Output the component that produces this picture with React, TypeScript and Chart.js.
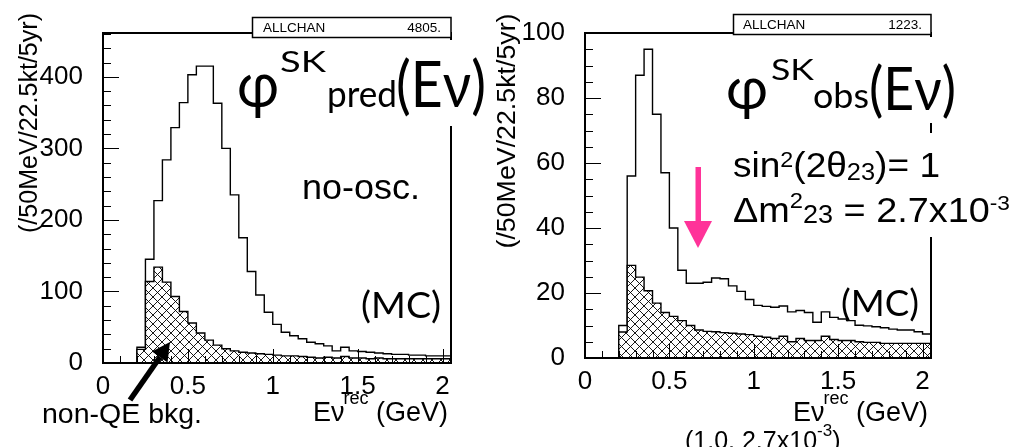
import React, { useEffect, useRef } from 'react';
import { Chart, registerables } from 'chart.js';

Chart.register(...registerables);

// Reconstructed neutrino energy: lower edges of the 50 MeV bins (GeV)
const binLowEdges = [
  0, 0.05, 0.1, 0.15, 0.2, 0.25, 0.3, 0.35, 0.4, 0.45,
  0.5, 0.55, 0.6, 0.65, 0.7, 0.75, 0.8, 0.85, 0.9, 0.95,
  1.0, 1.05, 1.1, 1.15, 1.2, 1.25, 1.3, 1.35, 1.4, 1.45,
  1.5, 1.55, 1.6, 1.65, 1.7, 1.75, 1.8, 1.85, 1.9, 1.95, 2.0,
];
const X_MAX = 2.05;

const xTickValues = [0, 0.5, 1, 1.5, 2];
const xTickLabels = ['0', '0.5', '1', '1.5', '2'];

const predYTicks = [0, 100, 200, 300, 400];
const predYTickLabels = ['0', '100', '200', '300', '400'];
const obsYTicks = [0, 20, 40, 60, 80, 100];
const obsYTickLabels = ['0', '20', '40', '60', '80', '100'];

// Predicted spectrum without oscillation (events / 50 MeV / 22.5 kt / 5 yr)
const predTotal = [
  0, 0, 0, 0, 22, 145, 227, 284, 329, 364,
  403, 415, 415, 363, 300, 235, 175, 128, 95, 71,
  54, 43, 38, 34, 29, 27, 24, 17, 22, 17,
  16, 15, 14, 13, 12, 12, 11, 11, 10, 10, 10,
];
const predNonQE = [
  0, 0, 0, 0, 19, 114, 134, 113, 93, 72,
  56, 42, 32, 25, 20, 17, 15, 14, 13, 12,
  11, 10, 10, 9, 8, 7, 8, 7, 9, 7,
  7, 6, 7, 6, 6, 6, 6, 6, 6, 6, 6,
];

// Spectrum with oscillation (sin^2 2θ = 1, Δm^2 = 2.7e-3 eV^2)
const obsTotal = [
  0, 0, 0, 0, 10, 56, 87, 95, 75, 57,
  40, 27, 23, 23, 23.3, 24.6, 24.4, 22.2, 20.5, 18,
  16.2, 15.9, 15.6, 16, 14.2, 14.6, 14, 11, 14.2, 12.5,
  12, 11.5, 10.1, 9.9, 9.6, 9.3, 8.9, 8.6, 8.6, 8.1, 7.4,
];
const obsNonQE = [
  0, 0, 0, 0, 8, 28.5, 24.9, 20.7, 16.9, 14,
  12.8, 11.5, 10, 8.6, 8.2, 8.1, 7.8, 7.6, 7.4, 7.2,
  6.7, 6.4, 6, 6.7, 5, 6, 5.4, 5.4, 6.7, 5.7,
  5.4, 5.4, 5, 4.8, 4.8, 4.5, 4.5, 4.5, 4.5, 4.5, 4.5,
];

const predEntries = '4805.';
const obsEntries = '1223.';

const SANS = "'Liberation Sans', Arial, Helvetica, sans-serif";
const HUMANIST = "Lato, 'Noto Sans', sans-serif";
const INK = '#000';
const PINK = '#ff3399';
const H = 447;

type PanelSpec = {
  width: number;
  areaLeft: number;
  areaRight: number;
  areaTop: number;
  areaBottom: number;
  yMax: number;
  yMinor: number;
  yMajor: number;
  yTicks: number[];
  yTickLabels: string[];
  total: number[];
  nonQE: number[];
};

const predPanel: PanelSpec = {
  width: 500, areaLeft: 103, areaRight: 451, areaTop: 17, areaBottom: 363,
  yMax: 461.3, yMinor: 20, yMajor: 100,
  yTicks: predYTicks, yTickLabels: predYTickLabels,
  total: predTotal, nonQE: predNonQE,
};

const obsPanel: PanelSpec = {
  width: 515, areaLeft: 85, areaRight: 431, areaTop: 14, areaBottom: 358,
  yMax: 100, yMinor: 5, yMajor: 20,
  yTicks: obsYTicks, yTickLabels: obsYTickLabels,
  total: obsTotal, nonQE: obsNonQE,
};

// histogram contents as step points at the lower bin edges, closed at X_MAX
function toSteps(values: number[]) {
  const pts = values.map((v, i) => ({ x: binLowEdges[i], y: v }));
  pts.push({ x: X_MAX, y: values[values.length - 1] });
  return pts;
}

// ROOT-style cross hatching
function makeHatch(ctx: CanvasRenderingContext2D): CanvasPattern | string {
  const s = 9;
  const c = document.createElement('canvas');
  c.width = s;
  c.height = s;
  const g = c.getContext('2d');
  if (!g) return '#fff';
  g.fillStyle = '#fff';
  g.fillRect(0, 0, s, s);
  g.strokeStyle = '#000';
  g.lineWidth = 0.9;
  g.beginPath();
  g.moveTo(-1, -1);
  g.lineTo(s + 1, s + 1);
  g.moveTo(s + 1, -1);
  g.lineTo(-1, s + 1);
  g.stroke();
  return ctx.createPattern(c, 'repeat') || '#fff';
}

// inward tick marks and the plot frame
function axisDecor(spec: PanelSpec) {
  return {
    id: 'axisDecor',
    afterDatasetsDraw(chart: any) {
      const { ctx, chartArea: a } = chart;
      const xs = chart.scales.x;
      const ys = chart.scales.y;
      ctx.save();
      ctx.strokeStyle = INK;
      ctx.lineWidth = 1;
      ctx.beginPath();
      for (let k = 0; k <= 20; k++) {
        const px = Math.round(xs.getPixelForValue(k / 10)) + 0.5;
        const len = k % 5 === 0 ? 14 : 7;
        ctx.moveTo(px, a.bottom);
        ctx.lineTo(px, a.bottom - len);
      }
      for (let k = 0; k * spec.yMinor < spec.yMax; k++) {
        const v = k * spec.yMinor;
        const py = Math.round(ys.getPixelForValue(v)) + 0.5;
        const len = v % spec.yMajor === 0 ? 16 : 8;
        ctx.moveTo(a.left, py);
        ctx.lineTo(a.left + len, py);
      }
      ctx.stroke();
      ctx.lineWidth = 2;
      ctx.strokeRect(a.left, a.top, a.right - a.left, a.bottom - a.top);
      ctx.restore();
    },
  };
}

function buildChart(canvas: HTMLCanvasElement, spec: PanelSpec) {
  const ctx = canvas.getContext('2d') as CanvasRenderingContext2D;
  const hatch = makeHatch(ctx);
  const tickFont = { family: SANS, size: 26, lineHeight: 1 };
  return new Chart(canvas, {
    type: 'line',
    data: {
      datasets: [
        {
          data: toSteps(spec.nonQE),
          stepped: 'before',
          borderColor: INK,
          borderWidth: 1.4,
          backgroundColor: hatch as any,
          fill: 'origin',
          pointRadius: 0,
        },
        {
          data: toSteps(spec.total),
          stepped: 'before',
          borderColor: INK,
          borderWidth: 1.4,
          backgroundColor: 'transparent',
          fill: false,
          pointRadius: 0,
        },
      ],
    },
    options: {
      animation: false,
      responsive: false,
      maintainAspectRatio: false,
      devicePixelRatio: 1,
      events: [],
      layout: {
        padding: { left: 0, top: spec.areaTop, right: spec.width - spec.areaRight, bottom: 0 },
      },
      plugins: { legend: { display: false }, tooltip: { enabled: false } },
      scales: {
        x: {
          type: 'linear',
          min: 0,
          max: X_MAX,
          grid: { display: false, drawTicks: false },
          border: { display: false },
          afterBuildTicks: (s: any) => {
            s.ticks = xTickValues.map((v) => ({ value: v }));
          },
          afterFit: (s: any) => {
            s.height = H - spec.areaBottom;
          },
          ticks: {
            font: tickFont,
            color: INK,
            padding: 11,
            maxRotation: 0,
            autoSkip: false,
            callback: (_v: any, i: number) => xTickLabels[i],
          },
        },
        y: {
          type: 'linear',
          min: 0,
          max: spec.yMax,
          grid: { display: false, drawTicks: false },
          border: { display: false },
          afterBuildTicks: (s: any) => {
            s.ticks = spec.yTicks.map((v) => ({ value: v }));
          },
          afterFit: (s: any) => {
            s.width = spec.areaLeft;
          },
          ticks: {
            font: tickFont,
            color: INK,
            padding: 20,
            autoSkip: false,
            callback: (_v: any, i: number) => spec.yTickLabels[i],
          },
        },
      },
    } as any,
    plugins: [axisDecor(spec)],
  });
}

function EnergyTitle({ right }: { right: number }) {
  return (
    <text x={right} y={421} textAnchor="end" fontFamily={SANS} fontSize={27}>
      Eν<tspan fontSize={18} dx={-1} dy={-17}>rec</tspan>
      <tspan dy={17}> (GeV)</tspan>
    </text>
  );
}

function Overlay() {
  return (
    <svg
      width={1015}
      height={H}
      style={{ position: 'absolute', left: 0, top: 0, pointerEvents: 'none' }}
    >
      {/* white panels behind the large annotations */}
      <rect x={232} y={40} width={262} height={86} fill="#fff" />
      <rect x={722} y={37} width={250} height={86} fill="#fff" />
      <rect x={730} y={133} width={285} height={104} fill="#fff" />

      {/* statistics boxes */}
      <rect x={252.5} y={17.5} width={198.5} height={20} fill="#fff" stroke={INK} strokeWidth={1.5} />
      <text x={263} y={32} fontFamily={SANS} fontSize={13.5}>ALLCHAN</text>
      <text x={441} y={32} fontFamily={SANS} fontSize={13.5} textAnchor="end">{predEntries}</text>
      <rect x={733.5} y={14.5} width={197.5} height={20} fill="#fff" stroke={INK} strokeWidth={1.5} />
      <text x={743} y={29} fontFamily={SANS} fontSize={13.5}>ALLCHAN</text>
      <text x={922} y={29} fontFamily={SANS} fontSize={13.5} textAnchor="end">{obsEntries}</text>

      {/* y-axis titles */}
      <text
        transform="translate(37,123) rotate(-90)"
        textAnchor="middle"
        fontFamily={SANS}
        fontSize={25}
        textLength={220}
        lengthAdjust="spacingAndGlyphs"
      >
        (/50MeV/22.5kt/5yr)
      </text>
      <text
        transform="translate(515,131) rotate(-90)"
        textAnchor="middle"
        fontFamily={SANS}
        fontSize={26}
        textLength={235}
        lengthAdjust="spacingAndGlyphs"
      >
        (/50MeV/22.5kt/5yr)
      </text>

      {/* x-axis titles */}
      <EnergyTitle right={448} />
      <EnergyTitle right={928} />
      <text x={685} y={449} fontFamily={SANS} fontSize={25}>
        (1.0, 2.7x10<tspan fontSize={17} dy={-13}>-3</tspan>
        <tspan dy={13}>)</tspan>
      </text>

      {/* predicted flux label */}
      <text x={237} y={107} fontFamily={HUMANIST} fontSize={64} textLength={42} lengthAdjust="spacingAndGlyphs">φ</text>
      <text x={280} y={72} fontFamily={HUMANIST} fontSize={28} textLength={46} lengthAdjust="spacingAndGlyphs">SK</text>
      <text x={327} y={107} fontFamily={HUMANIST} fontSize={36} textLength={70} lengthAdjust="spacingAndGlyphs">pred</text>
      <text x={396} y={107} fontFamily={HUMANIST} fontSize={63} textLength={90} lengthAdjust="spacingAndGlyphs">(Eν)</text>

      {/* observed flux label */}
      <text x={726} y={109} fontFamily={HUMANIST} fontSize={60} textLength={42} lengthAdjust="spacingAndGlyphs">φ</text>
      <text x={771} y={80} fontFamily={HUMANIST} fontSize={28} textLength={43} lengthAdjust="spacingAndGlyphs">SK</text>
      <text x={813} y={108} fontFamily={HUMANIST} fontSize={34} textLength={56} lengthAdjust="spacingAndGlyphs">obs</text>
      <text x={869} y={110} fontFamily={HUMANIST} fontSize={60} textLength={87} lengthAdjust="spacingAndGlyphs">(Eν)</text>

      {/* oscillation parameters */}
      <text x={733} y={177} fontFamily={SANS} fontSize={35} textLength={207} lengthAdjust="spacingAndGlyphs">
        sin<tspan fontSize={22} dy={-10}>2</tspan>
        <tspan dy={10}>(2θ</tspan>
        <tspan fontSize={24} dy={3}>23</tspan>
        <tspan dy={-3}>)= 1</tspan>
      </text>
      <text x={733} y={222} fontFamily={SANS} fontSize={35} textLength={277} lengthAdjust="spacingAndGlyphs">
        Δm<tspan fontSize={22} dy={-14}>2</tspan>
        <tspan fontSize={25} dy={15}>23</tspan>
        <tspan dy={-1}> = 2.7x10</tspan>
        <tspan fontSize={21} dy={-12}>-3</tspan>
      </text>

      {/* other labels */}
      <text x={302} y={199} fontFamily={SANS} fontSize={35} textLength={118} lengthAdjust="spacingAndGlyphs">no-osc.</text>
      <text x={361} y={318} fontFamily={HUMANIST} fontSize={36} textLength={80} lengthAdjust="spacingAndGlyphs">(MC)</text>
      <text x={841} y={316} fontFamily={HUMANIST} fontSize={36} textLength={78} lengthAdjust="spacingAndGlyphs">(MC)</text>
      <text x={42} y={423} fontFamily={SANS} fontSize={27} textLength={160} lengthAdjust="spacingAndGlyphs">non-QE bkg.</text>

      {/* arrow to the non-QE background */}
      <line x1={130} y1={400} x2={160} y2={357} stroke={INK} strokeWidth={5.5} />
      <polygon points="170,342 167.5,362.5 152,351.5" fill={INK} />

      {/* dip marker */}
      <rect x={695.5} y={167} width={5.5} height={58} fill={PINK} />
      <polygon points="684,221 712,221 698,248" fill={PINK} />
    </svg>
  );
}

export default function App() {
  const leftRef = useRef<HTMLCanvasElement | null>(null);
  const rightRef = useRef<HTMLCanvasElement | null>(null);

  useEffect(() => {
    const a = buildChart(leftRef.current as HTMLCanvasElement, predPanel);
    const b = buildChart(rightRef.current as HTMLCanvasElement, obsPanel);
    return () => {
      a.destroy();
      b.destroy();
    };
  }, []);

  return (
    <div
      style={{
        position: 'absolute',
        left: 0,
        top: 0,
        width: 1015,
        height: H,
        overflow: 'hidden',
        background: '#fff',
      }}
    >
      <canvas
        ref={leftRef}
        width={predPanel.width}
        height={H}
        style={{ position: 'absolute', left: 0, top: 0, width: predPanel.width, height: H }}
      />
      <canvas
        ref={rightRef}
        width={obsPanel.width}
        height={H}
        style={{ position: 'absolute', left: 500, top: 0, width: obsPanel.width, height: H }}
      />
      <Overlay />
    </div>
  );
}
